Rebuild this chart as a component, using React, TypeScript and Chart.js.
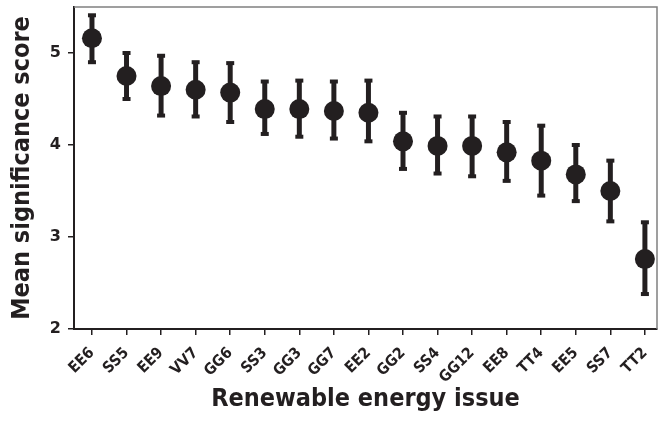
import React, { useEffect, useRef } from "react";
import { Chart, registerables } from "chart.js";

Chart.register(...registerables);

const categories = ["EE6", "SS5", "EE9", "VV7", "GG6", "SS3", "GG3", "GG7", "EE2", "GG2", "SS4", "GG12", "EE8", "TT4", "EE5", "SS7", "TT2"];
const means = [5.16, 4.75, 4.64, 4.6, 4.57, 4.39, 4.39, 4.37, 4.35, 4.04, 3.99, 3.99, 3.92, 3.83, 3.68, 3.5, 2.76];
const upper = [5.41, 5.0, 4.97, 4.9, 4.89, 4.69, 4.7, 4.69, 4.7, 4.35, 4.31, 4.31, 4.25, 4.21, 4.0, 3.83, 3.16];
const lower = [4.9, 4.5, 4.32, 4.31, 4.25, 4.12, 4.09, 4.07, 4.04, 3.74, 3.69, 3.66, 3.61, 3.45, 3.39, 3.17, 2.38];
const yTicks = [2, 3, 4, 5];

const INK = "#231f20";
const FONT = "'DejaVu Sans', sans-serif";
const CFONT = "'DejaVu Sans Condensed', 'DejaVu Sans', sans-serif";

export default function App() {
  const ref = useRef<HTMLCanvasElement>(null);

  useEffect(() => {
    document.body.style.margin = "0";
    const errorBars = {
      id: "errorBars",
      beforeDatasetsDraw(chart: any) {
        const { ctx, scales } = chart;
        const x = scales.x;
        const y = scales.y;
        ctx.save();
        ctx.strokeStyle = INK;
        ctx.fillStyle = INK;
        ctx.lineWidth = 5;
        categories.forEach((_, i) => {
          const px = x.getPixelForValue(i);
          const top = y.getPixelForValue(upper[i]);
          const bot = y.getPixelForValue(lower[i]);
          ctx.beginPath();
          ctx.moveTo(px, top);
          ctx.lineTo(px, bot);
          ctx.stroke();
          ctx.fillRect(px - 4, top - 2, 8, 4);
          ctx.fillRect(px - 4, bot - 2, 8, 4);
        });
        ctx.restore();
      },
    };
    const frame = {
      id: "frame",
      afterDraw(chart: any) {
        const { ctx, chartArea } = chart;
        ctx.save();
        ctx.strokeStyle = "#808080";
        ctx.lineWidth = 1.5;
        ctx.beginPath();
        ctx.moveTo(chartArea.left, chartArea.top);
        ctx.lineTo(chartArea.right, chartArea.top);
        ctx.lineTo(chartArea.right, chartArea.bottom);
        ctx.stroke();
        ctx.restore();
      },
    };

    const chart = new Chart(ref.current as HTMLCanvasElement, {
      type: "scatter",
      data: {
        datasets: [
          {
            data: categories.map((_, i) => ({ x: i, y: means[i] })),
            backgroundColor: INK,
            borderColor: INK,
            pointRadius: 10,
            pointHoverRadius: 10,
            borderWidth: 0,
          },
        ],
      },
      options: {
        animation: false,
        responsive: false,
        maintainAspectRatio: false,
        layout: { autoPadding: false, padding: { top: 7, right: 3, left: 0, bottom: 0 } },
        plugins: { legend: { display: false }, tooltip: { enabled: false } },
        scales: {
          x: {
            type: "linear",
            min: -0.52,
            max: 16.35,
            afterBuildTicks: (s: any) => {
              s.ticks = categories.map((_, i) => ({ value: i }));
            },
            afterFit: (s: any) => {
              s.height = 93;
              s.paddingLeft = 0;
              s.paddingRight = 0;
            },
            ticks: {
              autoSkip: false,
              minRotation: 45,
              maxRotation: 45,
              padding: 9,
              color: INK,
              font: { family: CFONT, size: 15.5, weight: "bold" },
              callback: (v: any) => categories[v] ?? "",
            },
            grid: { display: true, drawOnChartArea: false, drawTicks: true, tickLength: 6, color: INK, lineWidth: 1.5 },
            border: { display: true, color: INK, width: 2 },
            title: {
              display: true,
              text: "Renewable energy issue",
              color: INK,
              font: { family: CFONT, size: 25, weight: "bold" },
              padding: { top: 0, bottom: 8 },
            },
          },
          y: {
            type: "linear",
            min: 2,
            max: 5.5,
            afterBuildTicks: (s: any) => {
              s.ticks = yTicks.map((v) => ({ value: v }));
            },
            afterFit: (s: any) => {
              s.width = 74;
              s.paddingTop = 0;
              s.paddingBottom = 0;
            },
            ticks: {
              padding: 7,
              color: INK,
              font: { family: FONT, size: 16, weight: "bold" },
            },
            grid: { display: true, drawOnChartArea: false, drawTicks: true, tickLength: 6, color: INK, lineWidth: 1.5 },
            border: { display: true, color: INK, width: 2 },
            title: {
              display: true,
              text: "Mean significance score",
              color: INK,
              font: { family: CFONT, size: 25, weight: "bold" },
              padding: { top: 7, bottom: 0 },
            },
          },
        },
      },
      plugins: [errorBars, frame],
    });
    return () => chart.destroy();
  }, []);

  return (
    <div style={{ position: "absolute", left: 0, top: 0, width: 660, height: 422 }}>
      <canvas ref={ref} width={660} height={422} style={{ display: "block", width: 660, height: 422 }} />
    </div>
  );
}
